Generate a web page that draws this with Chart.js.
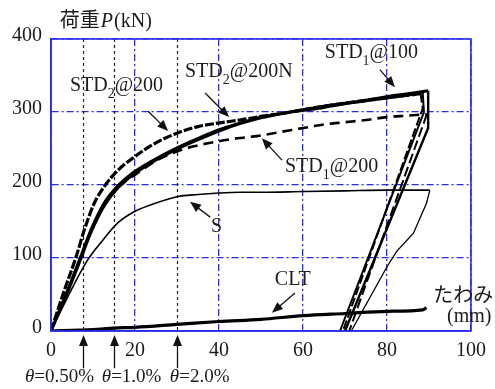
<!DOCTYPE html>
<html>
<head>
<meta charset="utf-8">
<script src="https://cdn.jsdelivr.net/npm/chart.js@4/dist/chart.umd.min.js"></script>
<style>
  html, body { margin: 0; padding: 0; background: #fff; }
  #c { display: block; }
</style>
</head>
<body>
<canvas id="c" width="495" height="389"></canvas>
<script>
// Axis ranges and tick marks
const xTicks = [0, 20, 40, 60, 80, 100];
const yTicks = [0, 100, 200, 300, 400];

// Drift-angle reference lines (mm at θ = 0.50%, 1.0%, 2.0%)
const thetaX = [7.5, 15, 30];
const thetaText = ['=0.50%', '=1.0%', '=2.0%'];

// Load (kN) – deflection (mm): loading branches
const std1at100X = [0, 4, 7.1, 9.5, 12.7, 15.9, 20, 24, 30, 35, 40, 45, 50, 55, 60, 65, 70, 75, 80, 85, 89.8];
const std1at100Y = [0, 54, 99, 135, 172, 196, 216, 231, 249, 262, 274, 284, 292, 298, 303, 308, 312, 316, 321, 325, 329];

const std2at200NX = [0, 4, 7.1, 9.5, 12.7, 15.9, 20, 24, 30, 35, 40, 45, 50, 55, 60, 65, 70, 75, 80, 85, 88.5];
const std2at200NY = [0, 57, 103, 139, 176, 199, 219, 233, 251, 264, 276, 285, 293, 298, 302, 306, 311, 315, 319, 323, 327];

const std2at200X = [0, 3.2, 6, 7.9, 10.3, 12.7, 15.9, 20, 23.8, 30, 35, 40, 45, 50, 55, 60, 65, 70, 75, 80, 85, 88];
const std2at200Y = [0, 56, 102, 138, 175, 198, 220, 239, 254, 271, 280, 285, 289, 294, 298, 303, 308, 312, 316, 320, 323, 325];

const std1at200X = [0, 4, 7.1, 9.5, 12.7, 15.9, 20, 25, 30, 34, 40, 44.4, 49, 55, 60, 65, 70, 75, 80, 85, 89.5];
const std1at200Y = [0, 55, 100, 136, 172, 196, 214, 233, 246, 253, 260, 264, 267, 273, 278, 283, 286, 289, 293, 295, 297];

const sX = [0, 4.8, 8.7, 12, 15.9, 20, 23.8, 30, 35, 40, 45, 50, 60, 70, 80, 90.2];
const sY = [0, 56, 97, 122, 148, 164, 173, 184, 187, 189, 190, 190, 191, 192, 193, 193];

const cltX = [0, 5, 10, 15, 20, 30, 40, 50, 60, 70, 80, 88.5, 89.4];
const cltY = [0, 1, 2, 4, 5, 9, 13, 16, 21, 24, 27, 29, 32];

// Unloading branches
const std1at100UnX = [89.8, 89.8, 70];
const std1at100UnY = [329, 278, 0];
const std2at200NUnX = [88.5, 88.8, 68.8];
const std2at200NUnY = [327, 300, 0];
const std2at200UnX = [88, 88.5, 69.5];
const std2at200UnY = [325, 305, 0];
const std1at200UnX = [89.5, 71];
const std1at200UnY = [297, 0];
const sUnX = [90.2, 89.4, 86.3, 82.3, 80, 71.5];
const sUnY = [193, 175, 134, 109, 88, 0];

// Curve labels: text parts, start point and baseline (data units), arrow tail -> head (data units)
const curveLabels = [
  { parts: [['STD'], ['2', 1], ['@200']],  at: [4.5, 329],  arrow: [23.1, 301, 27.9, 274] },
  { parts: [['STD'], ['2', 1], ['@200N']], at: [31.9, 348], arrow: [36.7, 326, 42.4, 293] },
  { parts: [['STD'], ['1', 1], ['@100']],  at: [65.2, 374], arrow: [78.3, 358, 81.9, 334] },
  { parts: [['STD'], ['1', 1], ['@200']],  at: [55.7, 218], arrow: [55.0, 234, 50.2, 264] },
  { parts: [['S']],                         at: [38.1, 136], arrow: [37.9, 156, 33.1, 177] },
  { parts: [['CLT']],                       at: [53.3, 63],  arrow: [58.1, 52, 52.6, 25] }
];

const SERIF = '"Liberation Serif", "DejaVu Serif", serif';
const CJK = '"Noto Sans CJK JP", sans-serif';
const INK = '#1c1c1c';
const BLUE = '#2a2af0';

function pts(xs, ys) { return xs.map((x, i) => ({ x: x, y: ys[i] })); }

function series(label, xs, ys, width, dash, smooth) {
  return {
    label: label,
    data: pts(xs, ys),
    showLine: true,
    borderColor: '#000',
    borderWidth: width,
    borderDash: dash || [],
    pointRadius: 0,
    tension: smooth ? 0.4 : 0,
    cubicInterpolationMode: smooth ? 'monotone' : 'default',
    fill: false
  };
}

function arrowHead(ctx, x1, y1, x2, y2, len, half) {
  const a = Math.atan2(y2 - y1, x2 - x1);
  ctx.beginPath();
  ctx.moveTo(x2, y2);
  ctx.lineTo(x2 - len * Math.cos(a) + half * Math.sin(a), y2 - len * Math.sin(a) - half * Math.cos(a));
  ctx.lineTo(x2 - len * Math.cos(a) - half * Math.sin(a), y2 - len * Math.sin(a) + half * Math.cos(a));
  ctx.closePath();
  ctx.fill();
}

function arrow(ctx, x1, y1, x2, y2, w) {
  const a = Math.atan2(y2 - y1, x2 - x1);
  ctx.lineWidth = w;
  ctx.beginPath();
  ctx.moveTo(x1, y1);
  ctx.lineTo(x2 - 8 * Math.cos(a), y2 - 8 * Math.sin(a));
  ctx.stroke();
  arrowHead(ctx, x1, y1, x2, y2, 11, 4.5);
}

function drawParts(ctx, parts, x, y) {
  let cx = x;
  parts.forEach(p => {
    if (p[1]) {
      ctx.font = '14px ' + SERIF;
      ctx.fillText(p[0], cx, y + 7);
    } else {
      ctx.font = '20px ' + SERIF;
      ctx.fillText(p[0], cx, y);
    }
    cx += ctx.measureText(p[0]).width;
  });
}

const decor = {
  id: 'decor',
  beforeDatasetsDraw(chart) {
    const { ctx, chartArea: a, scales: { x } } = chart;
    ctx.save();
    ctx.strokeStyle = '#222';
    ctx.lineWidth = 1.2;
    ctx.setLineDash([3, 3]);
    thetaX.forEach(v => {
      const px = Math.round(x.getPixelForValue(v)) + 0.5;
      ctx.beginPath();
      ctx.moveTo(px, a.top);
      ctx.lineTo(px, a.bottom);
      ctx.stroke();
    });
    ctx.restore();
  },
  afterDatasetsDraw(chart) {
    const { ctx, chartArea: a, scales: { x, y } } = chart;
    ctx.save();
    // plot frame
    ctx.strokeStyle = BLUE;
    ctx.lineWidth = 1.6;
    ctx.setLineDash([]);
    ctx.strokeRect(a.left, a.top, a.right - a.left, a.bottom - a.top);

    ctx.fillStyle = INK;
    ctx.strokeStyle = '#111';
    ctx.textBaseline = 'alphabetic';
    ctx.textAlign = 'left';

    // curve labels and pointers
    curveLabels.forEach(l => {
      drawParts(ctx, l.parts, x.getPixelForValue(l.at[0]), y.getPixelForValue(l.at[1]));
      ctx.fillStyle = '#111';
      arrow(ctx, x.getPixelForValue(l.arrow[0]), y.getPixelForValue(l.arrow[1]),
                 x.getPixelForValue(l.arrow[2]), y.getPixelForValue(l.arrow[3]), 1.3);
      ctx.fillStyle = INK;
    });

    // axis titles
    let tx = x.getPixelForValue(2.1), ty = y.getPixelForValue(416);
    ctx.font = '20px ' + CJK;
    ctx.fillText('荷重', tx, ty);
    tx += ctx.measureText('荷重').width + 1;
    ctx.font = 'italic 20px ' + SERIF;
    ctx.fillText('P', tx, ty);
    tx += ctx.measureText('P').width + 1;
    ctx.font = '20px ' + SERIF;
    ctx.fillText('(kN)', tx, ty);

    ctx.font = '20px ' + CJK;
    ctx.fillText('たわみ', x.getPixelForValue(91), y.getPixelForValue(40));
    ctx.font = '20px ' + SERIF;
    ctx.fillText('(mm)', x.getPixelForValue(94.3), y.getPixelForValue(12));

    // drift-angle pointers under the axis
    const labelStart = [-6.2, 12.1, 28.3];
    thetaX.forEach((v, i) => {
      const px = Math.round(x.getPixelForValue(v)) + 0.5;
      ctx.fillStyle = '#111';
      ctx.lineWidth = 1.3;
      ctx.beginPath();
      ctx.moveTo(px, y.getPixelForValue(-51));
      ctx.lineTo(px, y.getPixelForValue(-12));
      ctx.stroke();
      arrowHead(ctx, px, y.getPixelForValue(-51), px, y.getPixelForValue(-5.5), 11, 4.5);
      ctx.fillStyle = INK;
      let lx = x.getPixelForValue(labelStart[i]);
      const ly = y.getPixelForValue(-70);
      ctx.font = 'italic 19px ' + SERIF;
      ctx.fillText('θ', lx, ly);
      lx += ctx.measureText('θ').width;
      ctx.font = '19px ' + SERIF;
      ctx.fillText(thetaText[i], lx, ly);
    });
    ctx.restore();
  }
};

new Chart(document.getElementById('c'), {
  type: 'scatter',
  data: {
    datasets: [
      series('CLT', cltX, cltY, 3.2, null, true),
      series('S', sX, sY, 1.6, null, true),
      series('S unloading', sUnX, sUnY, 1.3, null, false),
      series('STD1@200', std1at200X, std1at200Y, 2.6, [10, 6], true),
      series('STD1@200 unloading', std1at200UnX, std1at200UnY, 2, [10, 4], false),
      series('STD1@100', std1at100X, std1at100Y, 3, null, true),
      series('STD1@100 unloading', std1at100UnX, std1at100UnY, 2.4, null, false),
      series('STD2@200N', std2at200NX, std2at200NY, 2.6, null, true),
      series('STD2@200N unloading', std2at200NUnX, std2at200NUnY, 2, null, false),
      series('STD2@200', std2at200X, std2at200Y, 3.2, [9, 2], true),
      series('STD2@200 unloading', std2at200UnX, std2at200UnY, 2, [9, 3], false)
    ]
  },
  options: {
    responsive: false,
    animation: false,
    layout: { padding: { top: 39, right: 24, left: 0, bottom: 0 } },
    plugins: { legend: { display: false }, tooltip: { enabled: false } },
    scales: {
      x: {
        type: 'linear',
        min: 0, max: 100,
        afterBuildTicks: s => { s.ticks = xTicks.map(v => ({ value: v })); },
        afterFit: s => { s.height = 58; },
        ticks: { color: INK, font: { family: SERIF, size: 20 }, padding: 8, maxRotation: 0 },
        grid: { color: BLUE, lineWidth: 1.3, drawTicks: false },
        border: { color: BLUE, width: 1.6, dash: [7, 3, 2, 3] }
      },
      y: {
        type: 'linear',
        min: 0, max: 400,
        afterBuildTicks: s => { s.ticks = yTicks.map(v => ({ value: v })); },
        afterFit: s => { s.width = 51; },
        ticks: { color: INK, font: { family: SERIF, size: 20 }, padding: 9, labelOffset: -3 },
        grid: { color: BLUE, lineWidth: 1.3, drawTicks: false },
        border: { color: BLUE, width: 1.6, dash: [7, 3, 2, 3] }
      }
    }
  },
  plugins: [decor]
});
</script>
</body>
</html>
